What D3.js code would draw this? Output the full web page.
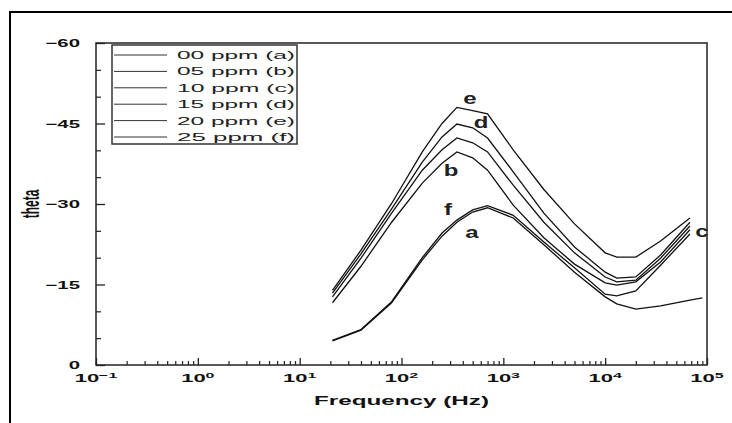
<!DOCTYPE html>
<html><head><meta charset="utf-8">
<script src="https://cdn.jsdelivr.net/npm/d3@7"></script>
<style>html,body{margin:0;padding:0;background:#fff;}svg{display:block;}</style>
</head><body>
<svg id="chart" width="732" height="423"></svg>
<script>
// ---- data ----
const freqHz = [21, 40, 80, 160, 250, 350, 500, 700, 1250, 2500, 5000, 10000, 13000, 20000, 35000, 68000, 90000];
const phaseA = [-4.5, -6.5, -11.6, -19.6, -24.0, -26.6, -28.5, -29.3, -27.4, -22.4, -17.3, -12.7, -11.4, -10.4, -11.0, -12.1, -12.5];
const phaseB = [-11.6, -18.4, -26.6, -33.9, -37.6, -39.7, -38.6, -36.3, -29.8, -23.7, -18.8, -15.3, -14.9, -15.5, -19.2, -25.2, null];
const phaseC = [-12.7, -19.9, -28.3, -36.3, -40.1, -42.3, -41.4, -39.7, -33.5, -26.6, -20.9, -16.4, -15.5, -15.8, -19.9, -25.9, null];
const phaseD = [-13.4, -20.7, -29.1, -37.8, -42.5, -44.9, -44.2, -42.3, -36.0, -28.3, -22.0, -17.3, -16.2, -16.4, -20.5, -26.6, null];
const phaseE = [-13.9, -21.4, -30.1, -39.7, -45.0, -48.0, -47.4, -46.8, -40.1, -32.7, -26.3, -20.9, -20.1, -20.1, -23.1, -27.4, null];
const phaseF = [-4.6, -6.6, -11.8, -20.0, -24.6, -27.0, -28.9, -29.7, -27.9, -22.9, -18.1, -13.2, -12.9, -13.8, -18.6, -24.4, null];
const seriesNames = ["00 ppm (a)", "05 ppm (b)", "10 ppm (c)", "15 ppm (d)", "20 ppm (e)", "25 ppm (f)"];
const seriesValues = [phaseA, phaseB, phaseC, phaseD, phaseE, phaseF];
const curveLabels = ["a", "b", "c", "d", "e", "f"];
const labelFreq = [492, 306, 89400, 604, 471, 286];
const labelPhase = [-24.6, -36.3, -24.8, -45.1, -49.7, -28.9];
const xTickExps = [-1, 0, 1, 2, 3, 4, 5];
const yTicks = [0, -15, -30, -45, -60];
const yMinor = [-5, -10, -20, -25, -35, -40, -50, -55];
const xTitle = "Frequency (Hz)";
const yTitle = "theta";

// ---- layout ----
const L = 96, R = 707, T = 43, B = 365;
const svg = d3.select("#chart");
const x = d3.scaleLog().domain([0.1, 1e5]).range([L, R]);
const y = d3.scaleLinear().domain([0, -60]).range([B, T]);
const font = "'Liberation Sans', Arial, sans-serif";

// outer frame
svg.append("rect").attr("x", 10).attr("y", 12).attr("width", 760).attr("height", 440)
  .attr("fill", "none").attr("stroke", "#000").attr("stroke-width", 2);

// plot frame
svg.append("rect").attr("x", L).attr("y", T).attr("width", R - L).attr("height", B - T)
  .attr("fill", "none").attr("stroke", "#222").attr("stroke-width", 1.5);

// x ticks
const minorX = [];
for (let e = -1; e < 5; e++) for (let m = 2; m <= 9; m++) minorX.push(m * Math.pow(10, e));
svg.append("g").attr("transform", `translate(0,${B})`)
  .call(d3.axisBottom(x).tickValues(xTickExps.map(e => Math.pow(10, e))).tickSize(-7).tickFormat(""))
  .call(g => { g.select(".domain").remove(); g.selectAll("line").attr("stroke", "#222").attr("stroke-width", 1.3); });
svg.append("g").attr("transform", `translate(0,${B})`)
  .call(d3.axisBottom(x).tickValues(minorX).tickSize(-4).tickFormat(""))
  .call(g => { g.select(".domain").remove(); g.selectAll("line").attr("stroke", "#222").attr("stroke-width", 1.2); });

// y ticks
svg.append("g").attr("transform", `translate(${L},0)`)
  .call(d3.axisRight(y).tickValues(yTicks).tickSize(9).tickFormat(""))
  .call(g => { g.select(".domain").remove(); g.selectAll("line").attr("stroke", "#222").attr("stroke-width", 1.3); });
svg.append("g").attr("transform", `translate(${L},0)`)
  .call(d3.axisRight(y).tickValues(yMinor).tickSize(5).tickFormat(""))
  .call(g => { g.select(".domain").remove(); g.selectAll("line").attr("stroke", "#222").attr("stroke-width", 1.2); });

// x tick labels
xTickExps.forEach(e => {
  const t = svg.append("text").attr("transform", `translate(${x(Math.pow(10, e))},382) scale(2,1)`)
    .attr("text-anchor", "middle").attr("font-family", font).attr("font-weight", "bold")
    .attr("font-size", 11).attr("fill", "#111");
  t.append("tspan").text("10");
  t.append("tspan").attr("dy", -4).attr("font-size", 8).text(e < 0 ? "\u2212" + Math.abs(e) : String(e));
});

// y tick labels
yTicks.forEach(v => {
  svg.append("text").attr("transform", `translate(80,${y(v) + 4}) scale(1.85,1)`)
    .attr("text-anchor", "end").attr("font-family", font).attr("font-weight", "bold")
    .attr("font-size", 11).attr("fill", "#111")
    .text(v === 0 ? "0" : "\u2212" + Math.abs(v));
});

// axis titles
svg.append("text").attr("x", (L + R) / 2).attr("y", 405)
  .attr("text-anchor", "middle").attr("font-family", font).attr("font-weight", "bold")
  .attr("font-size", 12).attr("textLength", 175).attr("lengthAdjust", "spacingAndGlyphs")
  .attr("fill", "#111").text(xTitle);
svg.append("text").attr("transform", "translate(31,204) scale(2,1) rotate(-90)")
  .attr("text-anchor", "middle").attr("dominant-baseline", "central")
  .attr("font-family", font).attr("font-weight", "bold").attr("font-size", 12)
  .attr("fill", "#111").text(yTitle);

// curves
const line = d3.line().defined(d => d[1] !== null).x(d => x(d[0])).y(d => y(d[1]));
seriesValues.forEach(vals => {
  svg.append("path").datum(freqHz.map((f, i) => [f, vals[i]]))
    .attr("d", line).attr("fill", "none").attr("stroke", "#111").attr("stroke-width", 1.3);
});

// curve labels
curveLabels.forEach((c, i) => {
  svg.append("text").attr("transform", `translate(${x(labelFreq[i])},${y(labelPhase[i])}) scale(1.5,1)`)
    .attr("text-anchor", "middle").attr("dominant-baseline", "central")
    .attr("font-family", font).attr("font-weight", "bold").attr("font-size", 16)
    .attr("fill", "#222").text(c);
});

// legend
const legX = 112, legY = 45, legW = 185, legH = 99, rowH = 16.4;
svg.append("rect").attr("x", legX).attr("y", legY).attr("width", legW).attr("height", legH)
  .attr("fill", "#fff").attr("stroke", "#333").attr("stroke-width", 1.5);
seriesNames.forEach((n, i) => {
  const cy = legY + 10 + i * rowH;
  svg.append("line").attr("x1", legX + 2).attr("x2", legX + 55).attr("y1", cy).attr("y2", cy)
    .attr("stroke", "#333").attr("stroke-width", 1);
  svg.append("text").attr("x", legX + 65).attr("y", cy + 4)
    .attr("font-family", font).attr("font-size", 11.5)
    .attr("textLength", 118).attr("lengthAdjust", "spacingAndGlyphs")
    .attr("fill", "#222").text(n);
});
</script>
</body></html>
